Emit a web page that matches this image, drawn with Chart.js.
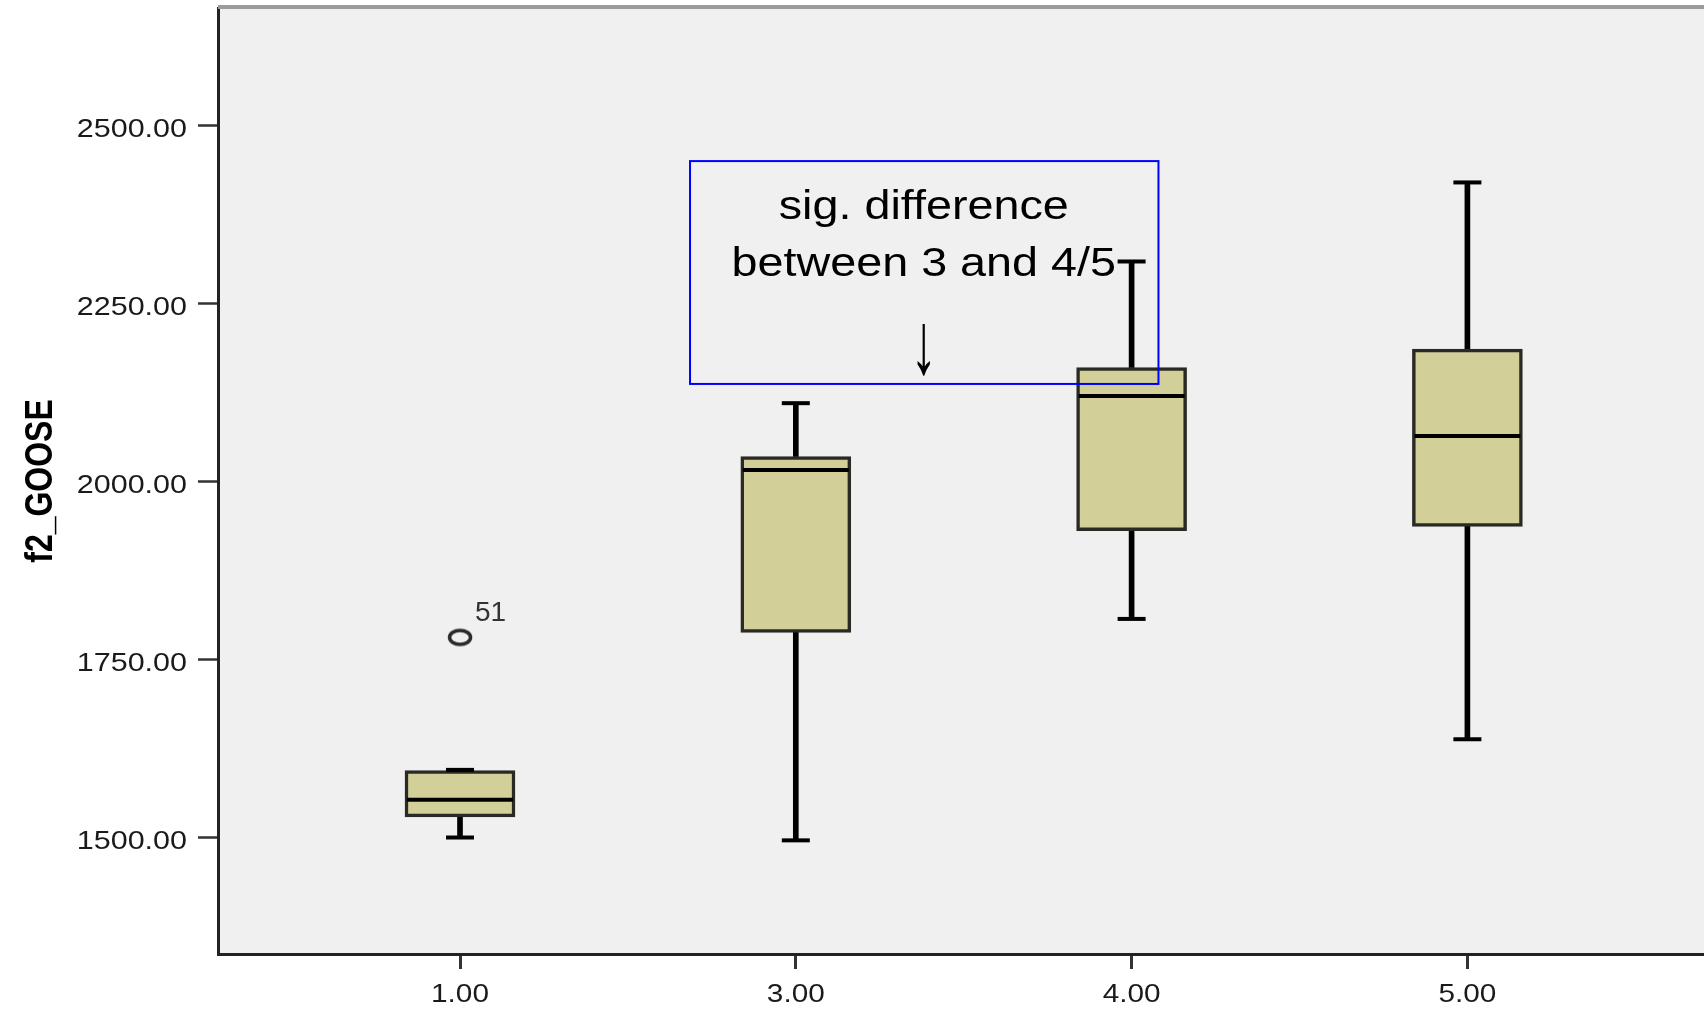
<!DOCTYPE html>
<html>
<head>
<meta charset="utf-8">
<title>f2_GOOSE</title>
<script src="https://cdn.jsdelivr.net/npm/chart.js@4.4.1/dist/chart.umd.min.js"></script>
<style>
  html, body { margin: 0; padding: 0; background: #fff; overflow: hidden; }
  canvas { display: block; }
</style>
</head>
<body>
<canvas id="gooseChart" width="1704" height="1010"></canvas>
<script>
// グループと箱ひげ図の値
const groupLabels = ['1.00', '3.00', '4.00', '5.00'];
const whiskerLow  = [1500, 1496, 1807, 1638];
const q1          = [1529, 1788, 1931, 1937];
const medians     = [1553, 2016, 2120, 2064];
const q3          = [1594, 2035, 2160, 2186];
const whiskerHigh = [1595, 2110, 2309, 2420];

// 外れ値 (グループ番号・値・ケース番号)
const outlierGroup  = [0];
const outlierValues = [1781];
const outlierCases  = ['51'];

// Y軸の目盛り
const yTicks = [1500, 1750, 2000, 2250, 2500];

// 注記
const noteLines = ['sig. difference', 'between 3 and 4/5'];
const noteArrow = '↓';

const positions = groupLabels.map((_, i) => i);

// 外れ値マーカー (横長の楕円)
const ellipseMarker = document.createElement('canvas');
ellipseMarker.width = 30;
ellipseMarker.height = 22;
(function () {
    const c = ellipseMarker.getContext('2d');
    c.strokeStyle = '#2a2a2a';
    c.lineWidth = 3.5;
    c.beginPath();
    c.ellipse(15, 11, 10.5, 7, 0, 0, Math.PI * 2);
    c.stroke();
})();

const FONT = '"Liberation Sans", Arial, sans-serif';

// 背景・目盛りラベル・軸タイトル・注記の描画
const decorPlugin = {
    id: 'spssDecor',
    beforeDraw(chart) {
        const { ctx, chartArea: a } = chart;
        ctx.save();
        ctx.fillStyle = '#ffffff';
        ctx.fillRect(0, 0, chart.width, chart.height);
        ctx.fillStyle = '#f0f0f0';
        ctx.fillRect(a.left, a.top, a.right - a.left, a.bottom - a.top);
        ctx.restore();
    },
    afterDraw(chart) {
        const { ctx, chartArea: a, scales } = chart;
        const xs = scales.x, ys = scales.y;
        ctx.save();

        // 上枠
        ctx.strokeStyle = '#9b9b9b';
        ctx.lineWidth = 4;
        ctx.beginPath();
        ctx.moveTo(a.left, a.top - 1);
        ctx.lineTo(a.right, a.top - 1);
        ctx.stroke();

        // 目盛りラベル
        ctx.fillStyle = '#1a1a1a';
        ctx.font = '25px ' + FONT;
        ctx.textBaseline = 'alphabetic';
        ctx.textAlign = 'right';
        ys.ticks.forEach(t => {
            ctx.save();
            ctx.translate(a.left - 31, ys.getPixelForValue(t.value) + 11.5);
            ctx.scale(1.22, 1);
            ctx.fillText(t.value.toFixed(2), 0, 0);
            ctx.restore();
        });
        ctx.textAlign = 'center';
        xs.ticks.forEach(t => {
            ctx.save();
            ctx.translate(xs.getPixelForValue(t.value), a.bottom + 47.5);
            ctx.scale(1.19, 1);
            ctx.fillText(groupLabels[t.value], 0, 0);
            ctx.restore();
        });

        // 軸タイトル
        ctx.save();
        ctx.fillStyle = '#000';
        ctx.font = 'bold 39px ' + FONT;
        ctx.translate(51.5, (a.top + a.bottom) / 2);
        ctx.rotate(-Math.PI / 2);
        ctx.scale(0.82, 1);
        ctx.textAlign = 'center';
        ctx.fillText('f2_GOOSE', 0, 0);
        ctx.restore();

        // 外れ値のケース番号
        const outMeta = chart.getDatasetMeta(5);
        ctx.fillStyle = '#333';
        ctx.font = '28px ' + FONT;
        ctx.textAlign = 'left';
        outMeta.data.forEach((pt, i) => {
            ctx.fillText(outlierCases[i], pt.x + 15, pt.y - 16);
        });

        // 注記の枠とテキスト
        const left = xs.getPixelForValue(0.685);
        const right = xs.getPixelForValue(2.08);
        const top = ys.getPixelForValue(2450);
        const bottom = ys.getPixelForValue(2137);
        ctx.strokeStyle = '#0000ff';
        ctx.lineWidth = 2;
        ctx.strokeRect(left, top, right - left, bottom - top);

        const cx = (left + right) / 2 - 0.5;
        const offsets = [57.5, 114.5];
        ctx.fillStyle = '#000';
        ctx.font = '41px ' + FONT;
        ctx.textAlign = 'center';
        noteLines.forEach((line, i) => {
            ctx.save();
            ctx.translate(cx, top + offsets[i]);
            ctx.scale(1.14, 1);
            ctx.fillText(line, 0, 0);
            ctx.restore();
        });
        // 下向き矢印 (縦に伸ばす)
        ctx.save();
        ctx.font = '46px ' + FONT;
        ctx.translate(cx, top + 212);
        ctx.scale(1.15, 1.9);
        ctx.fillText(noteArrow, 0, 0);
        ctx.restore();

        ctx.restore();
    }
};

const ctx = document.getElementById('gooseChart').getContext('2d');

new Chart(ctx, {
    type: 'bar',
    data: {
        datasets: [
            {
                // 箱 (Q1〜Q3)
                type: 'bar',
                data: positions.map(i => ({ x: i, y: [q1[i], q3[i]] })),
                backgroundColor: '#d3cf98',
                borderColor: '#2a2a25',
                borderWidth: 3.5,
                borderSkipped: false,
                barThickness: 110,
                grouped: false,
                order: 1,
            },
            {
                // 上のひげ
                type: 'bar',
                data: positions.map(i => ({ x: i, y: [q3[i], whiskerHigh[i]] })),
                backgroundColor: '#000',
                borderWidth: 0,
                barThickness: 5,
                grouped: false,
                order: 2,
            },
            {
                // 下のひげ
                type: 'bar',
                data: positions.map(i => ({ x: i, y: [whiskerLow[i], q1[i]] })),
                backgroundColor: '#000',
                borderWidth: 0,
                barThickness: 5,
                grouped: false,
                order: 2,
            },
            {
                // ひげの端
                type: 'line',
                data: positions.map(i => ({ x: i, y: whiskerHigh[i] }))
                    .concat(positions.map(i => ({ x: i, y: whiskerLow[i] }))),
                showLine: false,
                pointStyle: 'line',
                pointRadius: 14,
                pointBorderWidth: 4,
                pointBorderColor: '#000',
                borderColor: '#000',
                order: 0,
            },
            {
                // 中央値
                type: 'line',
                data: positions.map(i => ({ x: i, y: medians[i] })),
                showLine: false,
                pointStyle: 'line',
                pointRadius: 53,
                pointBorderWidth: 4,
                pointBorderColor: '#000',
                borderColor: '#000',
                order: 0,
            },
            {
                // 外れ値
                type: 'line',
                data: outlierGroup.map((g, i) => ({ x: g, y: outlierValues[i] })),
                showLine: false,
                pointStyle: ellipseMarker,
                pointRadius: 10,
                order: 0,
            },
        ]
    },
    options: {
        responsive: false,
        animation: false,
        events: [],
        layout: {
            autoPadding: false,
            padding: { top: 8, left: 0, right: 0, bottom: 0 },
        },
        plugins: {
            legend: { display: false },
            tooltip: { enabled: false },
        },
        scales: {
            x: {
                type: 'linear',
                min: -0.7207,
                max: 3.7046,
                offset: false,
                afterBuildTicks: scale => {
                    scale.ticks = positions.map(v => ({ value: v }));
                },
                afterFit: scale => { scale.height = 56; },
                ticks: { display: false },
                grid: {
                    offset: false,
                    drawOnChartArea: false,
                    drawTicks: true,
                    tickLength: 15,
                    tickWidth: 3,
                    tickColor: '#333',
                },
                border: { display: true, color: '#222', width: 3 },
            },
            y: {
                type: 'linear',
                min: 1336.4,
                max: 2665,
                afterBuildTicks: scale => {
                    scale.ticks = yTicks.map(v => ({ value: v }));
                },
                afterFit: scale => { scale.width = 218; },
                ticks: { display: false },
                grid: {
                    drawOnChartArea: false,
                    drawTicks: true,
                    tickLength: 20,
                    tickWidth: 2.5,
                    tickColor: '#333',
                },
                border: { display: true, color: '#222', width: 3 },
            },
        },
    },
    plugins: [decorPlugin],
});
</script>
</body>
</html>
